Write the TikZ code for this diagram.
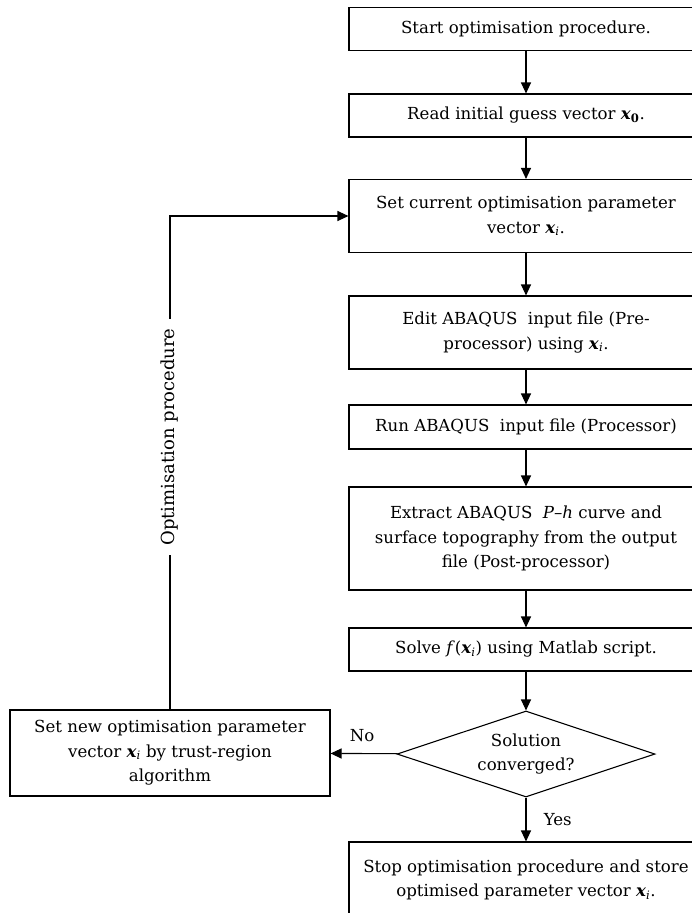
\documentclass[tikz,border=0pt]{standalone}
\usepackage{fontspec}
\setmainfont{DejaVu Serif}
\usetikzlibrary{arrows.meta,shapes.geometric}
\newcommand{\vxi}{\textbf{\textit{x}}\textsubscript{\textit{i}}}
\newcommand{\vxo}{\textbf{\textit{x}}\textsubscript{\textbf{0}}}
\tikzset{
  box/.style={draw, line width=1.1pt, minimum width=354pt, align=center, inner sep=0pt,
    font=\fontsize{16.6}{24.5}\selectfont},
  dec/.style={draw, diamond, line width=1.1pt, minimum width=258pt, minimum height=86pt,
    aspect=3, inner sep=0pt, align=center, font=\fontsize{16.6}{24.5}\selectfont},
  lbl/.style={font=\fontsize{16.6}{24}\selectfont},
  arr/.style={line width=1.1pt, -{Triangle[length=11pt,width=10pt]}},
  ln/.style={line width=1.1pt}
}
\begin{document}
\begin{tikzpicture}[x=1pt,y=-1pt]
\useasboundingbox (0,0) rectangle (691,913);
\fill[white] (0,0) rectangle (691,913);
\node[box, minimum height=43pt] (b1) at (526,29) {Start optimisation procedure.};
\node[box, minimum height=43pt] (b2) at (526,115.5) {Read initial guess vector \vxo.};
\node[box, minimum height=73pt] (b3) at (526,216) {Set current optimisation parameter\\vector \vxi.};
\node[box, minimum height=73pt] (b4) at (526,332.5) {Edit ABAQUS\ \ input file (Pre-\\processor) using \vxi.};
\node[box, minimum height=44pt] (b5) at (526,427) {Run ABAQUS\ \ input file (Processor)};
\node[box, minimum height=103pt] (b6) at (526,538.5) {Extract ABAQUS\ \ \textit{P--h} curve and\\surface topography from the output\\file (Post-processor)};
\node[box, minimum height=43pt] (b7) at (526,649.5) {Solve \textit{f}(\textit{\textbf{x}}\textsubscript{\textit{i}}) using Matlab script.};
\node[dec] (d) at (526,754) {Solution\\converged?};
\node[box, minimum height=76pt] (b8) at (526,880) {Stop optimisation procedure and store\\optimised parameter vector \vxi.};
\node[box, minimum width=320pt, minimum height=86pt] (nw) at (170,753) {Set new optimisation parameter\\vector \vxi\ by trust-region\\algorithm};
\draw[arr] (b1) -- (b2);
\draw[arr] (b2) -- (b3);
\draw[arr] (b3) -- (b4);
\draw[arr] (b4) -- (b5);
\draw[arr] (b5) -- (b6);
\draw[arr] (b6) -- (b7);
\draw[arr] (b7) -- (d);
\draw[arr] (d) -- node[lbl, right=14pt] {Yes} (b8);
\draw[arr] (d) -- node[lbl, above=8pt, xshift=-2pt] {No} (nw);
\draw[arr] (nw.north) |- (b3.west);
\node[lbl, rotate=90, fill=white, inner xsep=9pt, font=\fontsize{18}{24}\selectfont] (op) at (170,437) {Optimisation procedure};
\end{tikzpicture}
\end{document}
